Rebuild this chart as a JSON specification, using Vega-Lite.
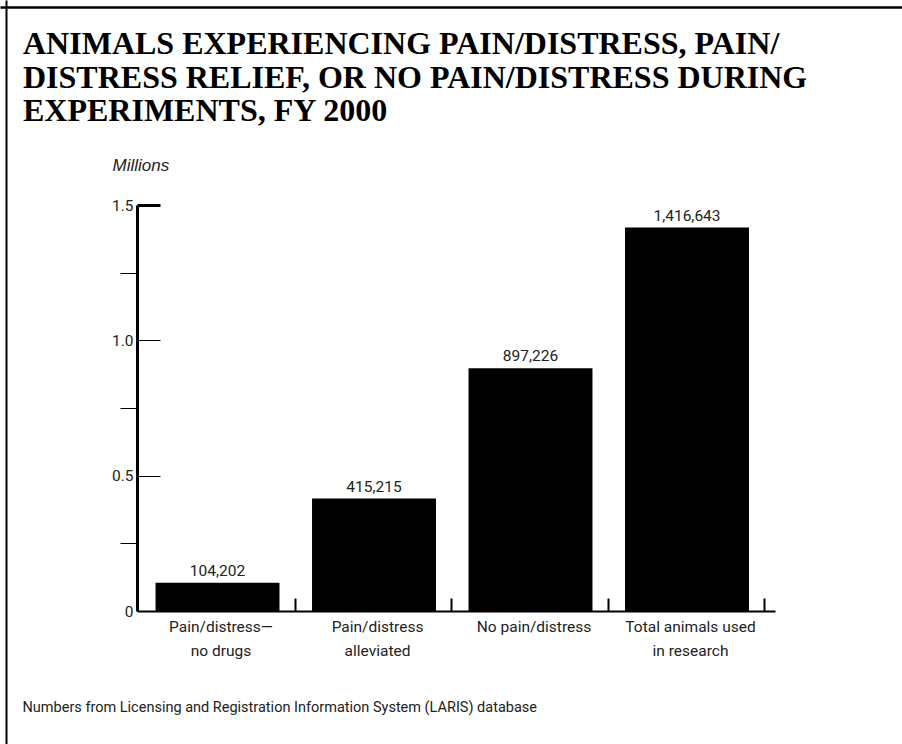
{
  "$schema": "https://vega.github.io/schema/vega-lite/v6.json",
  "width": 638,
  "height": 406,
  "autosize": {"type": "none"},
  "padding": {"left": 137, "top": 205, "right": 127, "bottom": 133},
  "background": "white",
  "title": {
    "text": ["ANIMALS EXPERIENCING PAIN/DISTRESS, PAIN/", "DISTRESS RELIEF, OR NO PAIN/DISTRESS DURING", "EXPERIMENTS, FY 2000"],
    "anchor": "start",
    "frame": "group",
    "font": "Liberation Serif",
    "fontSize": 32,
    "fontWeight": "bold",
    "color": "black",
    "lineHeight": 33.5,
    "baseline": "alphabetic",
    "dx": -114,
    "dy": 146,
    "offset": 0
  },
  "config": {"view": {"stroke": null}, "axis": {"grid": false}},
  "data": {
    "values": [
      {"category": "Pain/distress—\nno drugs", "animals": 104202},
      {"category": "Pain/distress\nalleviated", "animals": 415215},
      {"category": "No pain/distress", "animals": 897226},
      {"category": "Total animals used\nin research", "animals": 1416643}
    ]
  },
  "resolve": {
    "scale": {"x": "independent", "y": "independent"},
    "axis": {"x": "independent", "y": "independent"}
  },
  "layer": [
    {
      "mark": {"type": "bar", "color": "black"},
      "encoding": {
        "x": {
          "field": "category", "type": "nominal", "sort": null,
          "scale": {"type": "band", "paddingInner": 0.208, "paddingOuter": 0.1424, "align": 0.416},
          "axis": {
            "orient": "bottom",
            "title": "Numbers from Licensing and Registration Information System (LARIS) database",
            "titleX": -115, "titleY": 100, "titleAlign": "left", "titleAnchor": "start", "titleBaseline": "alphabetic",
            "titleFont": "Roboto", "titleFontSize": 14.5, "titleFontWeight": "normal", "titleColor": "#222",
            "labelAngle": 0,
            "labelExpr": "split(datum.label, '\\n')",
            "labelFont": "Roboto",
            "labelFontSize": 15.5, "labelColor": "#222", "labelLineHeight": 24,
            "labelBaseline": "top",
            "labelPadding": 21, "labelOffset": -74,
            "tickOffset": 77, "tickSize": -13, "tickWidth": 2, "tickColor": "black",
            "domainColor": "black", "domainWidth": 2
          }
        },
        "y": {
          "field": "animals", "type": "quantitative",
          "scale": {"domain": [0, 1500000], "nice": false, "zero": true},
          "axis": {
            "orient": "left",
            "values": [0, 500000, 1000000, 1500000],
            "labelExpr": "datum.value == 0 ? '0' : format(datum.value / 1000000, '.1f')",
            "labelFont": "Roboto",
            "labelFontSize": 15.5, "labelColor": "#222",
            "labelPadding": 27,
            "tickSize": -23,
            "tickWidth": {"condition": {"test": "datum.value == 1500000", "value": 3}, "value": 1},
            "tickColor": {"condition": {"test": "datum.value == 0", "value": "transparent"}, "value": "black"},
            "domainColor": "black", "domainWidth": 3,
            "title": "Millions",
            "titleAngle": 0, "titleX": -25, "titleY": -35, "titleAlign": "left", "titleBaseline": "alphabetic",
            "titleFont": "Liberation Sans", "titleFontStyle": "italic", "titleFontWeight": "normal",
            "titleFontSize": 17, "titleColor": "#222"
          }
        }
      }
    },
    {
      "mark": {"type": "text", "baseline": "alphabetic", "dy": -7, "font": "Roboto", "fontSize": 15.5, "color": "#222"},
      "encoding": {
        "x": {
          "field": "category", "type": "nominal", "sort": null,
          "scale": {"type": "band", "paddingInner": 0.208, "paddingOuter": 0.1424, "align": 0.416},
          "axis": null
        },
        "y": {
          "field": "animals", "type": "quantitative",
          "scale": {"domain": [0, 1500000], "nice": false, "zero": true},
          "axis": {
            "orient": "left",
            "values": [250000, 750000, 1250000],
            "tickSize": 17, "tickWidth": 1, "tickColor": "black",
            "labels": false, "domain": false, "title": null, "grid": false
          }
        },
        "text": {"field": "animals", "type": "quantitative", "format": ","}
      }
    },
    {
      "mark": {"type": "point", "opacity": 0},
      "encoding": {
        "x": {
          "field": "category", "type": "nominal", "sort": null,
          "scale": {"type": "point", "range": [-137, 765]},
          "axis": {"orient": "top", "offset": 198, "domain": true, "domainWidth": 2.5, "domainColor": "black", "ticks": false, "labels": false, "title": null, "grid": false}
        },
        "y": {
          "field": "animals", "type": "quantitative",
          "scale": {"range": [539, -205]},
          "axis": {"orient": "left", "offset": 131, "domain": true, "domainWidth": 2, "domainColor": "black", "ticks": false, "labels": false, "title": null, "grid": false}
        }
      }
    }
  ]
}
